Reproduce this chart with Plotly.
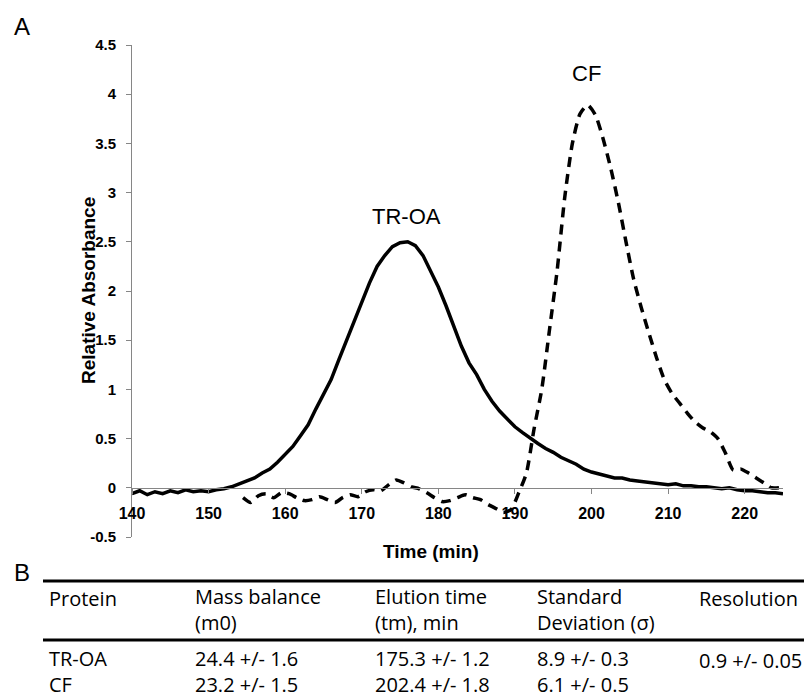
import plotly.graph_objects as go

# ---------------- data ----------------
time_troa = list(range(140, 226))
abs_troa = [
    -0.06, -0.03, -0.07, -0.04, -0.06, -0.03, -0.05, -0.02, -0.04, -0.03,   # 140-149
    -0.04, -0.02, -0.01, 0.01, 0.04, 0.07, 0.10, 0.15, 0.19, 0.26,          # 150-159
    0.34, 0.42, 0.53, 0.64, 0.80, 0.95, 1.10, 1.30, 1.50, 1.70,             # 160-169
    1.90, 2.08, 2.25, 2.36, 2.45, 2.49, 2.50, 2.46, 2.36, 2.20,             # 170-179
    2.04, 1.85, 1.64, 1.44, 1.27, 1.15, 1.00, 0.88, 0.78, 0.70,             # 180-189
    0.62, 0.56, 0.50, 0.45, 0.40, 0.36, 0.31, 0.27, 0.24, 0.19,             # 190-199
    0.16, 0.14, 0.12, 0.10, 0.10, 0.08, 0.07, 0.06, 0.05, 0.04,             # 200-209
    0.03, 0.04, 0.02, 0.02, 0.01, 0.01, 0.00, -0.01, 0.00, -0.02,           # 210-219
    -0.03, -0.03, -0.04, -0.05, -0.05, -0.06,                               # 220-225
]

time_cf = [
    154.5, 155.5, 156.5, 157.5, 158.5, 159.5, 160.5, 161.5, 162.5, 163.5,
    164.5, 165.5, 166.5, 167.5, 168.5, 169.5, 170.5, 171.5, 172.5, 173.5,
    174.5, 175.5, 176.5, 177.5, 178.5, 179.5, 180.5, 181.5, 182.5, 183.5,
    184.5, 185.5, 186.5, 187.5, 188.5, 189.5, 190.5, 191.5, 192.5, 193.5,
    194.5, 195.5, 196.5, 197.5, 198.5, 199.5, 200.5, 201.5, 202.5, 203.5,
    204.5, 205.5, 206.5, 207.5, 208.5, 209.5, 210.5, 211.5, 212.5, 213.5,
    214.5, 215.5, 216.5, 217.5, 218.5, 219.5, 220.5, 221.5, 222.5, 223.5,
    224.5,
]
abs_cf = [
    -0.10, -0.15, -0.08, -0.06, -0.10, -0.05, -0.06, -0.10, -0.13, -0.12,
    -0.09, -0.12, -0.15, -0.10, -0.07, -0.09, -0.04, -0.02, -0.03, 0.03,
    0.08, 0.05, 0.01, -0.01, -0.05, -0.10, -0.14, -0.13, -0.10, -0.07,
    -0.10, -0.12, -0.17, -0.21, -0.25, -0.22, -0.05, 0.15, 0.60, 1.00,
    1.60, 2.20, 2.95, 3.50, 3.80, 3.89, 3.79, 3.55, 3.25, 2.90,
    2.50, 2.12, 1.83, 1.57, 1.32, 1.10, 0.96, 0.86, 0.76, 0.67,
    0.61, 0.57, 0.50, 0.35, 0.18, 0.19, 0.15, 0.10, 0.05, 0.00,
    0.00,
]

x_ticks = [140, 150, 160, 170, 180, 190, 200, 210, 220]
y_ticks = [-0.5, 0, 0.5, 1, 1.5, 2, 2.5, 3, 3.5, 4, 4.5]
y_tick_labels = ["-0.5", "0", "0.5", "1", "1.5", "2", "2.5", "3", "3.5", "4", "4.5"]

peak_labels = ["TR-OA", "CF"]
peak_label_x = [175.9, 199.3]
peak_label_y = [2.76, 4.215]

table_header_1 = ["Protein", "Mass balance", "Elution time", "Standard", "Resolution"]
table_header_2 = ["", "(m0)", "(tm), min", "Deviation (σ)", ""]
table_row_troa = ["TR-OA", "24.4 +/- 1.6", "175.3 +/- 1.2", "8.9 +/- 0.3", "0.9 +/- 0.05"]
table_row_cf = ["CF", "23.2 +/- 1.5", "202.4 +/- 1.8", "6.1 +/- 0.5", ""]

# ---------------- geometry ----------------
OFF = 8  # page body margin
W, H = 812 - OFF, 700 - OFF
ML, MT = 132 - OFF, 45 - OFF
PLOT_R, PLOT_B = 783 - OFF, 537 - OFF
MR, MB = W - PLOT_R, H - PLOT_B
PW, PH = W - ML - MR, H - MT - MB


def px_x(px):
    return (px - OFF - ML) / PW


def px_y(py):
    return (PLOT_B - (py - OFF)) / PH


AXIS_GREY = "#868686"
FONT = "Liberation Sans, Arial, sans-serif"

fig = go.Figure()
fig.add_trace(go.Scatter(
    x=time_troa, y=abs_troa, mode="lines", name="TR-OA",
    line=dict(color="black", width=3.5), showlegend=False, hoverinfo="skip",
))
fig.add_trace(go.Scatter(
    x=time_cf, y=abs_cf, mode="lines", name="CF",
    line=dict(color="black", width=3.5, dash="10px,7px", shape="spline", smoothing=0.6),
    showlegend=False, hoverinfo="skip",
))

annotations = []
for t, xv, yv in zip(peak_labels, peak_label_x, peak_label_y):
    annotations.append(dict(x=xv, y=yv, xref="x", yref="y", text=t, showarrow=False,
                            xanchor="center", yanchor="middle",
                            font=dict(family=FONT, size=22, color="black")))

annotations += [
    dict(x=px_x(22), y=px_y(27), xref="paper", yref="paper", text="A", showarrow=False,
         xanchor="center", yanchor="middle", font=dict(family=FONT, size=24, color="black")),
    dict(x=px_x(22), y=px_y(572), xref="paper", yref="paper", text="B", showarrow=False,
         xanchor="center", yanchor="middle", font=dict(family=FONT, size=24, color="black")),
    dict(x=px_x(431), y=px_y(551), xref="paper", yref="paper", text="<b>Time (min)</b>",
         xanchor="center", yanchor="middle",
         showarrow=False, font=dict(family=FONT, size=19, color="black")),
    dict(x=px_x(88), y=px_y(291), xref="paper", yref="paper", text="<b>Relative Absorbance</b>",
         xanchor="center", yanchor="middle",
         textangle=-90, showarrow=False, font=dict(family=FONT, size=19, color="black")),
]

# ---------------- table (part B) ----------------
TFONT = dict(family="Open Sans, sans-serif", size=20, color="black")
col_x = [47, 193, 373, 535, 697]
HEADER_CENTER, BODY_CENTER = 609, 671.5
for cx, h1, h2, r1, r2 in zip(col_x, table_header_1, table_header_2, table_row_troa, table_row_cf):
    if h2:
        annotations.append(dict(x=px_x(cx), y=px_y(HEADER_CENTER), xref="paper", yref="paper",
                                text=h1 + "<br>" + h2, showarrow=False, align="left",
                                xanchor="left", yanchor="middle", font=TFONT))
    else:
        annotations.append(dict(x=px_x(cx), y=px_y(598), xref="paper", yref="paper",
                                text=h1, showarrow=False, align="left",
                                xanchor="left", yanchor="middle", font=TFONT))
    if r2:
        annotations.append(dict(x=px_x(cx), y=px_y(BODY_CENTER), xref="paper", yref="paper",
                                text=r1 + "<br>" + r2, showarrow=False, align="left",
                                xanchor="left", yanchor="middle", font=TFONT))
    else:
        annotations.append(dict(x=px_x(cx), y=px_y(660), xref="paper", yref="paper",
                                text=r1, showarrow=False, align="left",
                                xanchor="left", yanchor="middle", font=TFONT))

shapes = [
    dict(type="line", xref="paper", yref="paper", x0=px_x(43), x1=px_x(812),
         y0=px_y(581), y1=px_y(581), line=dict(color="black", width=3)),
    dict(type="line", xref="paper", yref="paper", x0=px_x(43), x1=px_x(812),
         y0=px_y(640), y1=px_y(640), line=dict(color="black", width=3)),
]

fig.update_layout(
    width=W, height=H,
    margin=dict(l=ML, r=MR, t=MT, b=MB),
    paper_bgcolor="white", plot_bgcolor="white",
    showlegend=False,
    annotations=annotations,
    shapes=shapes,
    xaxis=dict(
        range=[140, 225], anchor="free", position=0.1,
        showline=True, linecolor=AXIS_GREY, linewidth=1,
        ticks="outside", ticklen=5, tickcolor=AXIS_GREY, tickwidth=1,
        tickvals=x_ticks, ticklabelstandoff=6,
        tickfont=dict(family=FONT, size=16, color="black", weight="bold"),
        showgrid=False, zeroline=False,
    ),
    yaxis=dict(
        range=[-0.5, 4.5], domain=[0, 1],
        showline=True, linecolor=AXIS_GREY, linewidth=1,
        ticks="outside", ticklen=5, tickcolor=AXIS_GREY, tickwidth=1,
        tickvals=y_ticks, ticktext=y_tick_labels, ticklabelstandoff=7,
        tickfont=dict(family=FONT, size=15, color="black", weight="bold"),
        showgrid=False, zeroline=False,
    ),
)

fig.write_html("out.html")
